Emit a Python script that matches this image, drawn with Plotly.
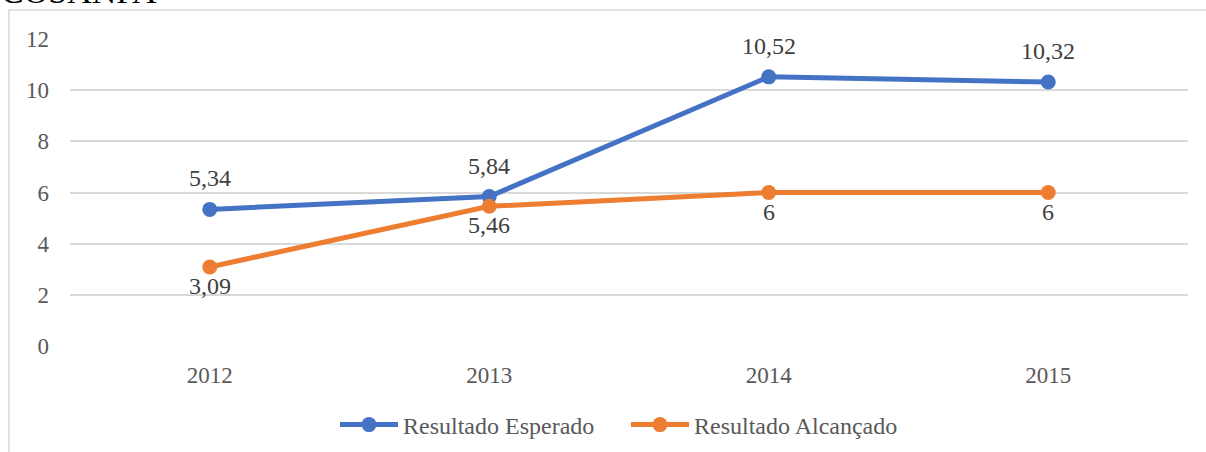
import plotly.graph_objects as go

anos = ["2012", "2013", "2014", "2015"]
esperado = [5.34, 5.84, 10.52, 10.32]
alcancado = [3.09, 5.46, 6, 6]
y_ticks = [0, 2, 4, 6, 8, 10, 12]


def rotulo(v):
    return f"{v:g}".replace(".", ",")


W, H = 1206, 452
ML, MR, MT, MB = 70, 18, 39, 106
pw, ph = W - ML - MR, H - MT - MB

serif = "Liberation Serif"
label_font = dict(family=serif, size=24, color="#404040")

series = [
    ("Resultado Esperado", esperado, "#4472C4", 31),
    ("Resultado Alcançado", alcancado, "#ED7D31", -19),
]

fig = go.Figure()
for nome, valores, cor, deslocamento in series:
    fig.add_trace(go.Scatter(
        x=anos, y=valores, name=nome, mode="lines+markers",
        line=dict(color=cor, width=5),
        marker=dict(size=15, color=cor),
    ))
    # data labels above (expected) or below (achieved) each point,
    # placed by category index on the x axis
    for i, v in enumerate(valores):
        fig.add_annotation(x=i, y=v, text=rotulo(v), showarrow=False,
                           yshift=deslocamento, font=label_font)

# outer chart frame
fx0 = (9 - ML) / pw
fx1 = (W + 20 - ML) / pw
fy1 = 1 + (MT - 10) / ph
fy0 = -(MB + 20) / ph
fig.add_shape(type="rect", xref="paper", yref="paper",
              x0=fx0, x1=fx1, y0=fy0, y1=fy1,
              line=dict(color="#D9D9D9", width=1.5), layer="below")

fig.add_annotation(text="COSANPA", xref="paper", yref="paper",
                   x=(-1 - ML) / pw, y=1 + (MT - 12) / ph,
                   xanchor="left", yanchor="bottom", showarrow=False,
                   font=dict(family=serif, size=34, color="#000000"))

fig.update_layout(
    width=W, height=H,
    margin=dict(l=ML, r=MR, t=MT, b=MB, autoexpand=False),
    paper_bgcolor="white", plot_bgcolor="white",
    font=dict(family=serif, color="#595959", size=23),
    showlegend=True,
    legend=dict(orientation="h", x=(335 - ML) / pw, xanchor="left",
                y=-(425 - MT - ph) / ph, yanchor="middle",
                font=dict(family=serif, size=24, color="#595959"),
                itemwidth=58, entrywidth=218, entrywidthmode="pixels",
                tracegroupgap=0),
    xaxis=dict(type="category", range=[-0.5, 3.5], showgrid=False,
               zeroline=False, showline=False, ticks="",
               ticklabelstandoff=13,
               tickfont=dict(family=serif, size=23, color="#595959")),
    yaxis=dict(range=[0, 12], tickvals=y_ticks, showgrid=True,
               gridcolor="#D9D9D9", gridwidth=1.5, zeroline=False,
               showline=False, ticks="", ticklabelstandoff=20,
               tickfont=dict(family=serif, size=23, color="#595959")),
)

fig.write_html("out.html")
